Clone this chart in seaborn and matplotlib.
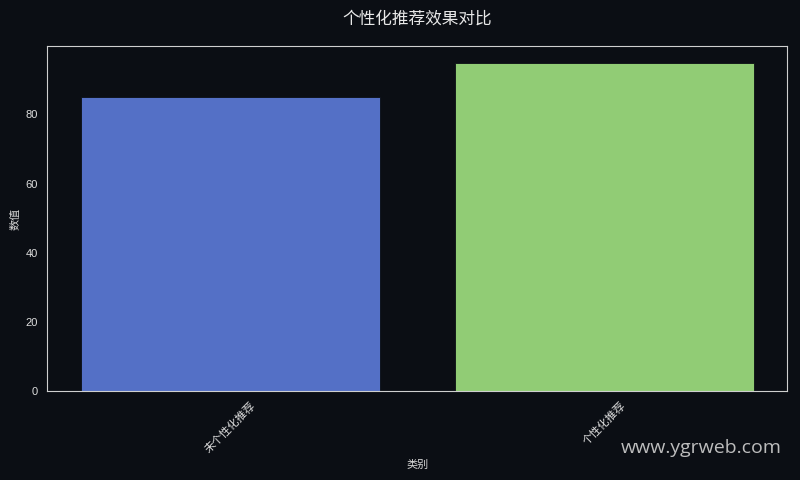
import matplotlib
matplotlib.use("Agg")
import matplotlib.pyplot as plt
import seaborn as sns
import pandas as pd

categories = ["未个性化推荐", "个性化推荐"]
values = [85, 95]
colors = ["#5470c6", "#91cc75"]

bg = "#0b0e14"
sns.set_theme(style="dark")
plt.rcParams['font.family'] = ['Liberation Sans', 'Noto Sans CJK SC', 'DejaVu Sans']
plt.rcParams['axes.unicode_minus'] = False

df = pd.DataFrame({"类别": categories, "数值": values})

fig, ax = plt.subplots(figsize=(8, 4.8), dpi=100)
fig.patch.set_facecolor(bg)
ax.set_facecolor(bg)

sns.barplot(data=df, x="类别", y="数值", hue="类别", palette=colors, legend=False,
            ax=ax, edgecolor=bg, linewidth=0.6, saturation=1)
ax.set_xlim(-0.49, 1.49)

ax.set_title("个性化推荐效果对比", color="#e8e8e8", fontsize=12, pad=16)
ax.set_xlabel("类别", color="#d8d8d8", fontsize=8)
ax.set_ylabel("数值", color="#d8d8d8", fontsize=8)
ax.tick_params(axis="both", colors="#dddddd", labelsize=8, length=3, width=0.8)
ax.tick_params(axis="x", rotation=45)
for s in ax.spines.values():
    s.set_color("#cfcfcf")
    s.set_linewidth(0.8)
ax.grid(False)

fig.subplots_adjust(left=0.059, right=0.984, top=0.904, bottom=0.185)
fig.text(0.977, 0.066, "www.ygrweb.com", color="#d0d0d0", fontsize=14,
         ha="right", va="center", alpha=0.9, family="Open Sans")

fig.savefig("out.png", dpi=100, facecolor=bg)
